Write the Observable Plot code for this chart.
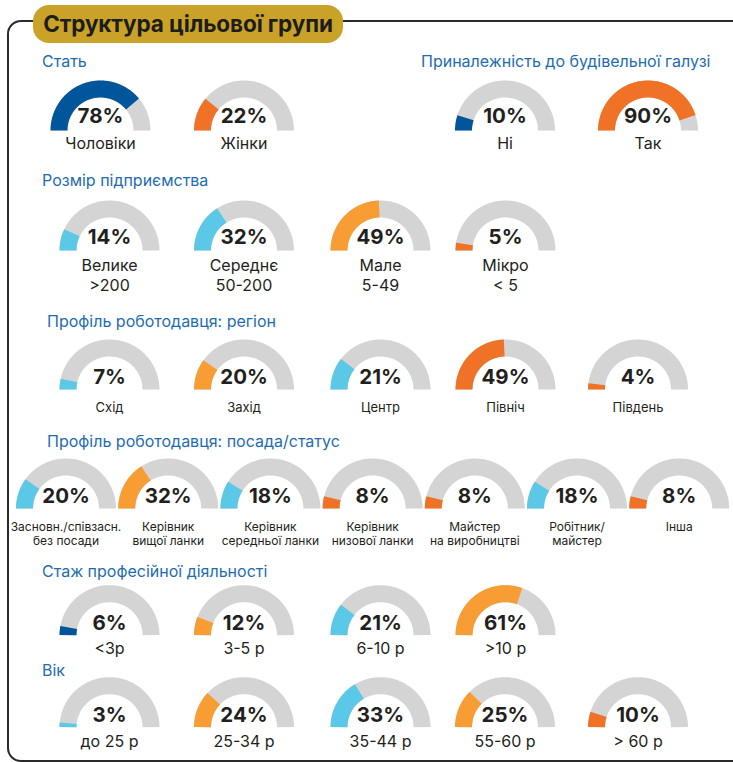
<!DOCTYPE html>
<html><head><meta charset="utf-8">
<script src="https://cdn.jsdelivr.net/npm/d3@7"></script>
<script src="https://cdn.jsdelivr.net/npm/@observablehq/plot@0.6"></script>
<style>
html,body{margin:0;padding:0;background:#fff;overflow:hidden;}
#wrap{position:relative;width:733px;height:762px;overflow:hidden;font-family:Inter,sans-serif;}
#frame{position:absolute;left:7px;top:20px;width:800px;height:742px;box-sizing:border-box;border:2px solid #2a2a2a;border-radius:14px;}
#title{position:absolute;left:33px;top:5px;width:310px;height:38px;background:#C9A227;border-radius:16px;color:#1d1d1d;font-weight:700;font-size:22.5px;line-height:38px;text-align:center;letter-spacing:-0.1px;}
#chart{position:absolute;left:0;top:0;}
</style></head>
<body><div id="wrap"><div id="frame"></div><div id="title"></div><div id="chart"></div></div>
<script>
const chartTitle = "Структура цільової групи";

const sexHeader = "Стать";
const sexLabels = ["Чоловіки", "Жінки"];
const sexValues = [78, 22];
const sexTones = ["navy", "orange"];

const industryHeader = "Приналежність до будівельної галузі";
const industryLabels = ["Ні", "Так"];
const industryValues = [10, 90];
const industryTones = ["navy", "orange"];

const sizeHeader = "Розмір підприємства";
const sizeLabels = ["Велике\n>200", "Середнє\n50-200", "Мале\n5-49", "Мікро\n< 5"];
const sizeValues = [14, 32, 49, 5];
const sizeTones = ["sky", "sky", "amber", "orange"];

const regionHeader = "Профіль роботодавця: регіон";
const regionLabels = ["Схід", "Захід", "Центр", "Північ", "Південь"];
const regionValues = [7, 20, 21, 49, 4];
const regionTones = ["sky", "amber", "sky", "orange", "orange"];

const roleHeader = "Профіль роботодавця: посада/статус";
const roleLabels = ["Засновн./співзасн.\nбез посади", "Керівник\nвищої ланки", "Керівник\nсередньої ланки", "Керівник\nнизової ланки", "Майстер\nна виробництві", "Робітник/\nмайстер", "Інша"];
const roleValues = [20, 32, 18, 8, 8, 18, 8];
const roleTones = ["sky", "amber", "sky", "orange", "orange", "sky", "orange"];

const tenureHeader = "Стаж професійної діяльності";
const tenureLabels = ["<3р", "3-5 р", "6-10 р", ">10 р"];
const tenureValues = [6, 12, 21, 61];
const tenureTones = ["navy", "amber", "sky", "amber"];

const ageHeader = "Вік";
const ageLabels = ["до 25 р", "25-34 р", "35-44 р", "55-60 р", "> 60 р"];
const ageValues = [3, 24, 33, 25, 10];
const ageTones = ["sky", "amber", "sky", "amber", "orange"];

// styling / layout
const palette = {navy: "#00559B", orange: "#EF7226", amber: "#F89C34", sky: "#5CC8E8", track: "#D3D4D3"};
const headerColor = "#1E6CB1";
const textColor = "#231F20";
const R = 41.5, RING = 17;

const rows = [
  {header: sexHeader, hx: 41.5, hy: 66.5, labels: sexLabels, values: sexValues, tones: sexTones, cx: [100, 243.5], cy: 130, vdy: -8, ldy: 18, lh: 18, fs: 16},
  {header: industryHeader, hx: 420.5, hy: 66.5, labels: industryLabels, values: industryValues, tones: industryTones, cx: [504.5, 647.5], cy: 130, vdy: -8, ldy: 18, lh: 18, fs: 16},
  {header: sizeHeader, hx: 41.5, hy: 185, labels: sizeLabels, values: sizeValues, tones: sizeTones, cx: [109, 243.5, 380, 505], cy: 250, vdy: -7, ldy: 20, lh: 20, fs: 16},
  {header: regionHeader, hx: 46.5, hy: 326, labels: regionLabels, values: regionValues, tones: regionTones, cx: [109, 243.5, 380, 505, 637.5], cy: 389, vdy: -6, ldy: 22, lh: 14, fs: 13},
  {header: roleHeader, hx: 46.5, hy: 446.5, labels: roleLabels, values: roleValues, tones: roleTones, cx: d3.range(7).map(i => 65.5 + 102.2 * i), cy: 508, vdy: -5.5, ldy: 22, lh: 14.5, fs: 12},
  {header: tenureHeader, hx: 41.5, hy: 576.5, labels: tenureLabels, values: tenureValues, tones: tenureTones, cx: [109, 243.5, 380, 505], cy: 634.7, vdy: -5, ldy: 19, lh: 18, fs: 16},
  {header: ageHeader, hx: 41.5, hy: 675, labels: ageLabels, values: ageValues, tones: ageTones, cx: [109, 243.5, 380, 504.5, 637.5], cy: 726.7, vdy: -5, ldy: 20, lh: 18, fs: 16}
];

document.getElementById("title").textContent = chartTitle;

function arcPoints(id, cx, cy, frac, color) {
  const n = Math.max(2, Math.ceil(120 * frac));
  return d3.range(n + 1).map(i => {
    const a = Math.PI * (1 - frac * i / n);
    return {id, x: cx + R * Math.cos(a), y: cy - R * Math.sin(a), color};
  });
}

const tracks = [], fills = [], gauges = [], headers = [];
rows.forEach((row, r) => {
  headers.push({text: row.header, x: row.hx, y: row.hy});
  row.values.forEach((v, i) => {
    const cx = row.cx[i];
    tracks.push(...arcPoints(`t${r}-${i}`, cx, row.cy, 1, palette.track));
    fills.push(...arcPoints(`f${r}-${i}`, cx, row.cy, v / 100, palette[row.tones[i]]));
    const lines = row.labels[i].split("\n").length;
    gauges.push({
      cx, value: `${v}%`, vy: row.cy + row.vdy,
      label: row.labels[i], ly: row.cy + row.ldy + (lines - 1) * row.lh,
      fs: row.fs, lhEm: row.lh / row.fs
    });
  });
});

const labelMarks = d3.groups(gauges, d => d.fs + "|" + d.lhEm).map(([, g]) =>
  Plot.text(g, {x: "cx", y: "ly", text: "label", textAnchor: "middle", lineAnchor: "bottom",
    fontSize: g[0].fs, lineHeight: g[0].lhEm, fill: textColor})
);

const plot = Plot.plot({
  width: 733, height: 762,
  margin: 0,
  x: {type: "identity", axis: null},
  y: {type: "identity", axis: null},
  color: {type: "identity"},
  style: {fontFamily: "Inter, sans-serif", background: "transparent", overflow: "visible"},
  marks: [
    Plot.line(tracks, {x: "x", y: "y", z: "id", stroke: "color", strokeWidth: RING, strokeLinecap: "butt", strokeLinejoin: "round", curve: "linear"}),
    Plot.line(fills, {x: "x", y: "y", z: "id", stroke: "color", strokeWidth: RING, strokeLinecap: "butt", strokeLinejoin: "round", curve: "linear"}),
    Plot.text(gauges, {x: "cx", y: "vy", text: "value", textAnchor: "middle", lineAnchor: "bottom", fontSize: 20.5, fontWeight: 700, fill: textColor}),
    ...labelMarks,
    Plot.text(headers, {x: "x", y: "y", text: "text", textAnchor: "start", lineAnchor: "bottom", fontSize: 16, fill: headerColor})
  ]
});
document.getElementById("chart").appendChild(plot);
</script>
</body></html>
